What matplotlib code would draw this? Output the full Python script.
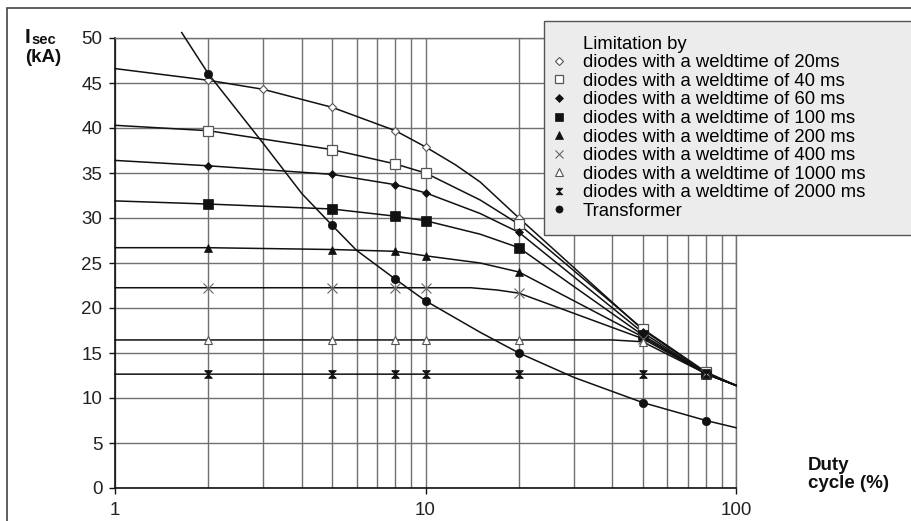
"""
Secondary current limits vs duty cycle: diode weld-time limits and transformer curve.
Writes out.png (912x521).
"""
import matplotlib
matplotlib.use("Agg")
import matplotlib.pyplot as plt
from matplotlib.lines import Line2D
from matplotlib.patches import Rectangle
from matplotlib.ticker import LogLocator, NullFormatter

plt.rcParams["font.family"] = ["Liberation Sans", "DejaVu Sans"]

INK, GRID, BOX = "#111111", "#707070", "#ececec"

# --- data (duty cycle %, I_sec kA) --------------------------------------------
d20_x = [1, 2, 3, 5, 8, 10, 12.5, 15, 20, 50, 80, 100]
d20_y = [46.6, 45.3, 44.3, 42.3, 39.7, 37.9, 35.9, 34.0, 30.0, 17.6, 12.8, 11.4]
d20_m = [2, 3, 5, 8, 10, 20, 50, 80]

d40_x = [1, 2, 5, 8, 10, 15, 20, 50, 80, 100]
d40_y = [40.3, 39.7, 37.6, 36.0, 35.0, 32.0, 29.3, 17.7, 12.9, 11.4]
d40_m = [2, 5, 8, 10, 20, 50, 80]

d60_x = [1, 2, 5, 8, 10, 15, 20, 50, 80, 100]
d60_y = [36.4, 35.8, 34.85, 33.7, 32.8, 30.5, 28.4, 17.3, 12.7, 11.4]
d60_m = [2, 5, 8, 10, 20, 50, 80]

d100_x = [1, 2, 5, 8, 10, 15, 20, 50, 80, 100]
d100_y = [31.9, 31.55, 31.0, 30.2, 29.7, 28.2, 26.7, 17.0, 12.7, 11.4]
d100_m = [2, 5, 8, 10, 20, 50, 80]

d200_x = [1, 2, 5, 8, 10, 15, 20, 50, 80, 100]
d200_y = [26.7, 26.7, 26.5, 26.3, 25.8, 25.0, 24.0, 16.8, 12.7, 11.4]
d200_m = [2, 5, 8, 10, 20, 50, 80]

d400_x = [1, 2, 5, 8, 10, 14, 17, 20, 50, 80, 100]
d400_y = [22.25, 22.25, 22.25, 22.25, 22.25, 22.25, 22.0, 21.65, 16.6, 12.7, 11.4]
d400_m = [2, 5, 8, 10, 20, 50, 80]

d1000_x = [1, 2, 5, 8, 10, 20, 40, 50, 80, 100]
d1000_y = [16.45, 16.45, 16.45, 16.45, 16.45, 16.45, 16.45, 16.25, 12.7, 11.4]
d1000_m = [2, 5, 8, 10, 20, 50, 80]

d2000_x = [1, 2, 5, 8, 10, 20, 50, 80, 100]
d2000_y = [12.65, 12.65, 12.65, 12.65, 12.65, 12.65, 12.65, 12.65, 11.4]
d2000_m = [2, 5, 8, 10, 20, 50, 80]

tr_x = [1.64, 2, 3, 4, 5, 6, 8, 10, 15, 20, 30, 50, 80, 100]
tr_y = [50.6, 46.0, 38.3, 32.7, 29.2, 26.4, 23.2, 20.8, 17.3, 15.0, 12.3, 9.5, 7.5, 6.7]
tr_m = [2, 5, 8, 10, 20, 50, 80]

labels = [
    "diodes with a weldtime of 20ms",
    "diodes with a weldtime of 40 ms",
    "diodes with a weldtime of 60 ms",
    "diodes with a weldtime of 100 ms",
    "diodes with a weldtime of 200 ms",
    "diodes with a weldtime of 400 ms",
    "diodes with a weldtime of 1000 ms",
    "diodes with a weldtime of 2000 ms",
    "Transformer",
]
series = [
    (d20_x, d20_y, d20_m), (d40_x, d40_y, d40_m), (d60_x, d60_y, d60_m),
    (d100_x, d100_y, d100_m), (d200_x, d200_y, d200_m),
    (d400_x, d400_y, d400_m), (d1000_x, d1000_y, d1000_m),
    (d2000_x, d2000_y, d2000_m), (tr_x, tr_y, tr_m),
]
x_ticks = [1, 10, 100]
x_ticklabels = ["1", "10", "100"]
y_ticks = [0, 5, 10, 15, 20, 25, 30, 35, 40, 45, 50]

HOURGLASS = [(-1, 1), (1, 1), (-1, -1), (1, -1), (-1, 1)]
STYLES = [
    dict(marker="D", ms=4.5, mfc="white", mec="#555555", mew=0.8),
    dict(marker="s", ms=7, mfc="white", mec="#555555", mew=0.9),
    dict(marker="D", ms=4.5, mfc=INK, mec=INK, mew=0.5),
    dict(marker="s", ms=7, mfc=INK, mec=INK, mew=0.5),
    dict(marker="^", ms=6, mfc=INK, mec=INK, mew=0.5),
    dict(marker="x", ms=7, mfc="none", mec="#666666", mew=0.8),
    dict(marker="^", ms=6, mfc="white", mec="#555555", mew=0.8),
    dict(marker=HOURGLASS, ms=5.5, mfc=INK, mec=INK, mew=0.6),
    dict(marker="o", ms=6, mfc=INK, mec=INK, mew=0.5),
]

fig = plt.figure(figsize=(9.12, 5.21), dpi=100)
ax = fig.add_axes([115 / 912, 33 / 521, 621 / 912, 450 / 521])

for (cx, cy, mx), st in zip(series, STYLES):
    ax.plot(cx, cy, color=INK, lw=1.1, clip_on=False, zorder=3)
    px = [x for x in cx if x in mx]
    py = [y for x, y in zip(cx, cy) if x in mx]
    ax.plot(px, py, ls="none", zorder=4, clip_on=False, **st)

ax.set_xscale("log")
ax.set_xlim(1, 100)
ax.set_ylim(0, 50)
ax.set_xticks(x_ticks, x_ticklabels)
ax.xaxis.set_minor_locator(LogLocator(base=10, subs=range(2, 10)))
ax.xaxis.set_minor_formatter(NullFormatter())
ax.set_yticks(y_ticks)
ax.tick_params(which="major", length=4, width=1, color=INK, labelsize=13.5,
               labelcolor="#222222")
ax.tick_params(axis="y", pad=5)
ax.tick_params(axis="x", pad=6)
ax.tick_params(which="minor", length=0)
ax.grid(which="both", axis="x", color=GRID, lw=1.0)
ax.grid(which="major", axis="y", color=GRID, lw=1.0)
ax.set_axisbelow(True)
for side in ("top", "right"):
    ax.spines[side].set_color(GRID)
    ax.spines[side].set_linewidth(1.0)
for side in ("left", "bottom"):
    ax.spines[side].set_color(INK)
    ax.spines[side].set_linewidth(1.2)

# legend box
handles = [Line2D([], [], ls="none")]
for st in STYLES:
    handles.append(Line2D([], [], ls="none", **st))
leg = ax.legend(handles, ["Limitation by"] + labels, loc="upper left",
                bbox_to_anchor=(544 / 912, 1 - 235 / 521, 370 / 912, 214 / 521),
                bbox_transform=fig.transFigure, mode="expand",
                fontsize=13.3, frameon=True, fancybox=False, facecolor=BOX,
                edgecolor="#555555", framealpha=1, borderpad=0.8,
                handlelength=0.05, handletextpad=1.25, labelspacing=0.085,
                borderaxespad=0, markerscale=0.85)
leg.get_frame().set_linewidth(1.0)
leg.set_zorder(10)

# axis labels
fig.text(25 / 912, 1 - 43 / 521, "I", fontsize=15, fontweight="bold",
         va="baseline", color=INK)
fig.text(31 / 912, 1 - 44 / 521, "sec", fontsize=10.5, fontweight="bold",
         va="baseline", color=INK)
fig.text(25 / 912, 1 - 62 / 521, "(kA)", fontsize=13.5, fontweight="bold",
         va="baseline", color=INK)
fig.text(808 / 912, 1 - 470 / 521, "Duty", fontsize=13.5, fontweight="bold",
         va="baseline", color=INK)
fig.text(808 / 912, 1 - 488 / 521, "cycle (%)", fontsize=13.5,
         fontweight="bold", va="baseline", color=INK)

# outer frame
fig.patches.append(Rectangle((7 / 912, -0.05), 1.0, 1.05 - 8 / 521,
                             transform=fig.transFigure, fill=False,
                             edgecolor="#444444", lw=1.2))

fig.savefig("out.png", dpi=100)
